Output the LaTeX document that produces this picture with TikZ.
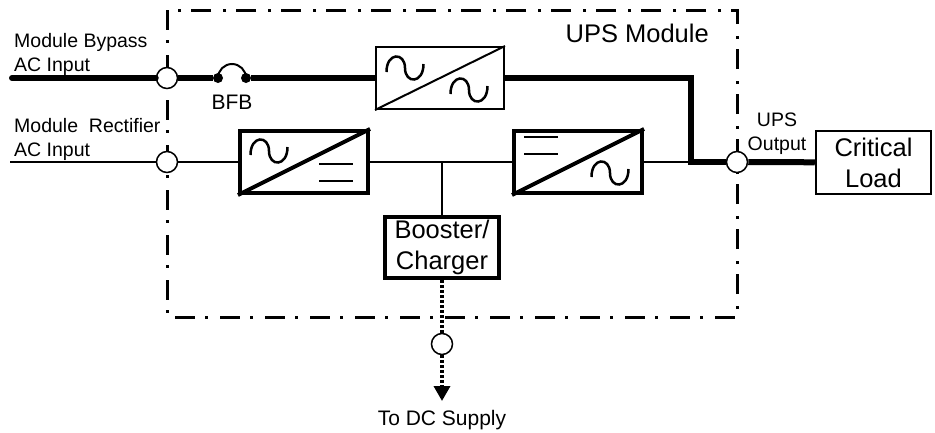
\documentclass[tikz,border=0pt]{standalone}
\usepackage{fontspec}
\setmainfont{Liberation Sans}
\usetikzlibrary{positioning,arrows.meta}

\newcommand{\txtsmall}{\fontsize{19.5}{24}\selectfont}
\newcommand{\txtbig}{\fontsize{25.5}{31}\selectfont}

\tikzset{
  conv/.style={draw, line width=4pt, minimum width=128pt, minimum height=62pt, inner sep=0pt},
  port/.style={circle, draw, fill=white, line width=1.5pt, minimum size=21pt, inner sep=0pt},
  fusedot/.style={circle, fill, minimum size=10pt, inner sep=0pt},
  loadbox/.style={draw, line width=2.5pt, minimum width=115pt, minimum height=63pt, align=center, inner sep=0pt, font=\txtbig},
  lbl/.style={inner sep=0pt, font=\txtsmall},
  moduleframe/.style={line width=3pt, dash pattern=on 20pt off 10pt on 3pt off 12pt},
  power/.style={line width=6pt},
  thinline/.style={line width=2pt},
  dcpath/.style={line width=3.5pt, dash pattern=on 3pt off 2pt},
  acwave/.pic={\draw[line width=2.5pt] (-18.5,4) .. controls (-18.5,-16) and (0,-16) .. (0,0)
                 .. controls (0,16) and (18.5,16) .. (18.5,-4);},
  dcbars/.pic={\draw[line width=2pt] (-17,-8.5) -- (17,-8.5) (-17,8.5) -- (17,8.5);},
}

\begin{document}
\begin{tikzpicture}[x=1pt, y=-1pt]
  \useasboundingbox (0,0) rectangle (935,432);

  % module border
  \draw[moduleframe] (167,10) rectangle (737,317);
  \node[lbl, font=\txtbig, anchor=base east] (modlabel) at (709,42) {UPS Module};

  % converters
  \node[conv, line width=2pt] (bypass) at (440,78) {};
  \node[conv] (rect) at (304,162) {};
  \node[conv] (inv)  at (578,162) {};
  \draw[line width=2pt] (bypass.south west) -- (bypass.north east);
  \draw[line width=4pt] (rect.south west) -- (rect.north east);
  \draw[line width=4pt] (inv.south west) -- (inv.north east);
  \pic at ([shift={(-35,-10)}]bypass.center) {acwave};
  \pic at ([shift={(29,12)}]bypass.center) {acwave};
  \pic at ([shift={(-35,-11)}]rect.center) {acwave};
  \pic at ([shift={(32,10.5)}]rect.center) {dcbars};
  \pic at ([shift={(-37,-16.5)}]inv.center) {dcbars};
  \pic at ([shift={(32,11)}]inv.center) {acwave};

  \node[conv, minimum width=114pt, minimum height=61pt, align=center, font=\txtbig] (boost) at (442,247.5) {Booster/\\Charger};
  \node[loadbox] (critload) at (873.5,162.5) {Critical\\Load};

  % ports
  \node[port] (bport)  at (167,78)  {};
  \node[port] (rport)  at (167,162) {};
  \node[port] (oport)  at (737,162) {};
  \node[port] (dcport) at (442,344) {};
  \node[fusedot] (bfbL) at (218,78) {};
  \node[fusedot] (bfbR) at (246,78) {};

  % labels (base = last line)
  \node[lbl, anchor=base west, align=left] (bplabel) at (14,71) {Module Bypass\\AC Input};
  \node[lbl, anchor=base west, align=left] (rclabel) at (14,156) {Module\ \ Rectifier\\AC Input};
  \node[lbl, font=\fontsize{21}{25}\selectfont, anchor=base] (bfb) at (232,109) {BFB};
  \node[lbl, anchor=base, align=center] (outlabel) at (777,150) {UPS\\Output};
  \node[lbl, font=\fontsize{21}{25}\selectfont, anchor=base] (dclabel) at (442,425) {To DC Supply};

  \coordinate (bpin)  at (12,78);
  \coordinate (rcin)  at (10,162);
  \coordinate (jn)    at (691,162);
  \coordinate (dcbus) at (442,162);
  \coordinate (dcend) at (442,401);

  % Connect the nodes
  \draw[power, line cap=round] (bpin) -- (bport);
  \draw[power] (bport) -- (bfbL);
  \draw[line width=2pt] (bfbL.center) arc[start angle=180, end angle=0, radius=14pt];
  \draw[power] (bfbR) -- (bypass);
  \draw[power] (bypass) -| (jn) -- (oport);
  \draw[power] (oport) -- (critload);
  \draw[thinline] (rcin) -- (rport);
  \draw[thinline] (rport) -- (rect);
  \draw[thinline] (rect) -- (inv);
  \draw[thinline] (inv) -- (jn);
  \draw[thinline] (dcbus) -- (boost);
  \draw[dcpath] (boost) -- (dcport);
  \draw[dcpath, -{Triangle[width=16pt, length=15pt]}] (dcport) -- (dcend);
\end{tikzpicture}
\end{document}
